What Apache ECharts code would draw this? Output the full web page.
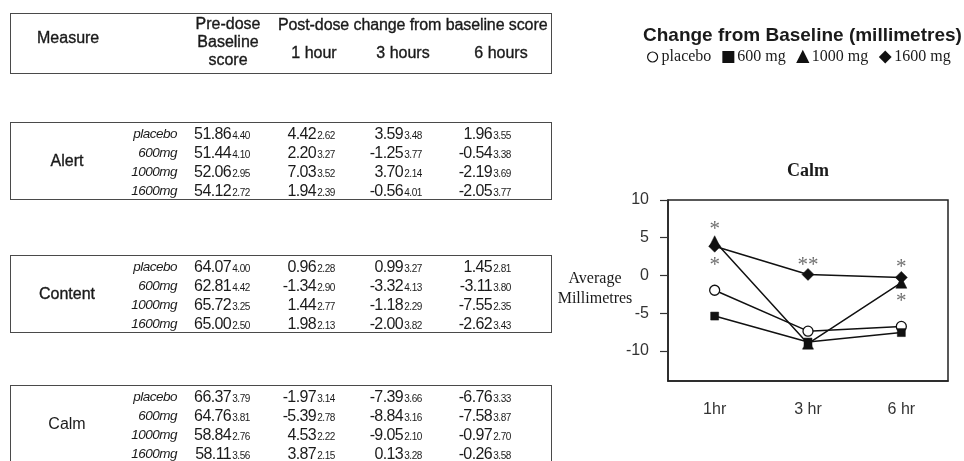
<!DOCTYPE html>
<html>
<head>
<meta charset="utf-8">
<script src="https://cdn.jsdelivr.net/npm/echarts@6/dist/echarts.min.js"></script>
<style>
  html, body { margin: 0; padding: 0; background: #fff; }
  #wrap { position: relative; width: 964px; height: 461px; overflow: hidden; background: #fff; }
  #chart { position: absolute; left: 0; top: 0; width: 964px; height: 461px; }
  #table { position: absolute; left: 0; top: 0; width: 964px; height: 461px; font-family: "Liberation Sans", Arial, sans-serif; color: #1a1a1a; }
  .box { position: absolute; border: 1.5px solid #4a4a4a; box-sizing: border-box; }
  .t { position: absolute; white-space: nowrap; line-height: 19px; }
  .hd { -webkit-text-stroke: 0.35px #1a1a1a; }
  .sd { font-size: 10px; letter-spacing: -0.4px; margin-left: 1px; }
</style>
</head>
<body>
<div id="wrap">
  <div id="chart"></div>
  <div id="table"></div>
</div>
<script>
// ---------------- data ----------------
const measures = ['Alert', 'Content', 'Calm'];
const doseLabels = ['placebo', '600mg', '1000mg', '1600mg'];
const headerTimes = ['1 hour', '3 hours', '6 hours'];

const alertBaseline = [51.86, 51.44, 52.06, 54.12];
const alertBaselineSD = [4.40, 4.10, 2.95, 2.72];
const alert1h = [4.42, 2.20, 7.03, 1.94];
const alert1hSD = [2.62, 3.27, 3.52, 2.39];
const alert3h = [3.59, -1.25, 3.70, -0.56];
const alert3hSD = [3.48, 3.77, 2.14, 4.01];
const alert6h = [1.96, -0.54, -2.19, -2.05];
const alert6hSD = [3.55, 3.38, 3.69, 3.77];

const contentBaseline = [64.07, 62.81, 65.72, 65.00];
const contentBaselineSD = [4.00, 4.42, 3.25, 2.50];
const content1h = [0.96, -1.34, 1.44, 1.98];
const content1hSD = [2.28, 2.90, 2.77, 2.13];
const content3h = [0.99, -3.32, -1.18, -2.00];
const content3hSD = [3.27, 4.13, 2.29, 3.82];
const content6h = [1.45, -3.11, -7.55, -2.62];
const content6hSD = [2.81, 3.80, 2.35, 3.43];

const calmBaseline = [66.37, 64.76, 58.84, 58.11];
const calmBaselineSD = [3.79, 3.81, 2.76, 3.56];
const calm1h = [-1.97, -5.39, 4.53, 3.87];
const calm1hSD = [3.14, 2.78, 2.22, 2.15];
const calm3h = [-7.39, -8.84, -9.05, 0.13];
const calm3hSD = [3.66, 3.16, 2.10, 3.28];
const calm6h = [-6.76, -7.58, -0.97, -0.26];
const calm6hSD = [3.33, 3.87, 2.70, 3.58];

// chart
const chartCategories = ['1hr', '3 hr', '6 hr'];
const seriesNames = ['placebo', '600 mg', '1000 mg', '1600 mg'];
const yTickValues = [-10, -5, 0, 5, 10];
// significance markers (asterisks)
const sigCategory = ['1hr', '1hr', '3 hr', '6 hr', '6 hr'];
const sigValue = [6.7, 2.0, 2.0, 1.7, -2.8];
const sigText = ['*', '*', '**', '*', '*'];

// ---------------- table (HTML) ----------------
const tableData = {
  Alert: [[alertBaseline, alertBaselineSD], [alert1h, alert1hSD], [alert3h, alert3hSD], [alert6h, alert6hSD]],
  Content: [[contentBaseline, contentBaselineSD], [content1h, content1hSD], [content3h, content3hSD], [content6h, content6hSD]],
  Calm: [[calmBaseline, calmBaselineSD], [calm1h, calm1hSD], [calm3h, calm3hSD], [calm6h, calm6hSD]]
};

const tbl = document.getElementById('table');
function add(html, css, cls) {
  const d = document.createElement('div');
  d.className = cls || 't';
  d.innerHTML = html;
  Object.assign(d.style, css);
  tbl.appendChild(d);
  return d;
}
const BOX_L = 10, BOX_W = 542;
// header
add('', { left: BOX_L + 'px', top: '13px', width: BOX_W + 'px', height: '61px' }, 'box');
add('Measure', { left: '37px', top: '28px', fontSize: '16px' }, 't hd');
['Pre-dose', 'Baseline', 'score'].forEach((s, i) => {
  add(s, { left: '178px', width: '100px', textAlign: 'center', top: (14 + i * 18) + 'px', fontSize: '16px' }, 't hd');
});
add('Post-dose change from baseline score', { left: '278px', top: '15px', fontSize: '16px', letterSpacing: '-0.1px' }, 't hd');
const hdrCenters = [314, 403, 501];
headerTimes.forEach((s, i) => {
  add(s, { left: (hdrCenters[i] - 60) + 'px', width: '120px', textAlign: 'center', top: '43px', fontSize: '16px' }, 't hd');
});

const boxTops = [122, 255, 385];
const colRights = [250, 335, 422, 511];
measures.forEach((m, mi) => {
  const top = boxTops[mi];
  add('', { left: BOX_L + 'px', top: top + 'px', width: BOX_W + 'px', height: '78px' }, 'box');
  add(m, { left: '17px', width: '100px', textAlign: 'center', top: (top + 29) + 'px', fontSize: '16px' }, mi < 2 ? 't hd' : 't');
  doseLabels.forEach((d, ri) => {
    const y = top + 2 + ri * 19;
    add(d, { right: (964 - 177) + 'px', top: y + 'px', fontSize: '13.5px', fontStyle: 'italic', letterSpacing: '-0.5px' });
    tableData[m].forEach((col, ci) => {
      const v = col[0][ri].toFixed(2);
      const sd = col[1][ri].toFixed(2);
      add(v + '<span class="sd">' + sd + '</span>', { right: (964 - colRights[ci]) + 'px', top: y + 'px', fontSize: '16px', letterSpacing: '-0.6px', textAlign: 'right' });
    });
  });
});

// ---------------- chart ----------------
const seriesData = [0, 1, 2, 3].map(k => [calm1h[k], calm3h[k], calm6h[k]]);
const symbols = ['circle', 'rect', 'triangle', 'diamond'];
const symbolSizes = [10, 8, 11, 12];

const chart = echarts.init(document.getElementById('chart'));
const series = seriesNames.map((name, k) => ({
  name: name,
  type: 'line',
  data: seriesData[k],
  symbol: symbols[k],
  symbolSize: symbolSizes[k],
  showAllSymbol: true,
  lineStyle: { color: '#111', width: 1.5 },
  itemStyle: k === 0 ? { color: '#fff', borderColor: '#111', borderWidth: 1.3 } : { color: '#111', borderColor: '#111', borderWidth: 0.5 },
  z: 3 + k,
  animation: false
}));
series.push({
  type: 'scatter',
  name: 'sig',
  symbolSize: 0,
  data: sigCategory.map((c, i) => [c, sigValue[i], sigText[i]]),
  label: {
    show: true,
    position: 'inside',
    formatter: p => p.data[2],
    fontFamily: '"Liberation Serif", "Times New Roman", serif',
    fontSize: 21,
    color: '#4a4a4a',
    offset: [0, 5]
  },
  silent: true,
  z: 10,
  animation: false
});

chart.setOption({
  animation: false,
  title: {
    text: 'Change from Baseline (millimetres)',
    left: 643,
    top: 26,
    padding: 0,
    textStyle: { fontFamily: '"Liberation Sans", Arial, sans-serif', fontWeight: 'bold', fontSize: 19, color: '#1a1a1a' }
  },
  legend: {
    left: 647,
    top: 49,
    padding: 0,
    itemWidth: 10,
    itemHeight: 10,
    itemGap: 11,
    textStyle: { fontFamily: '"Liberation Serif", "Times New Roman", serif', fontSize: 16, color: '#1a1a1a', padding: [0, 0, 0, -1] },
    data: [
      { name: 'placebo', icon: 'circle', itemStyle: { color: '#fff', borderColor: '#111', borderWidth: 1.2 } },
      { name: '600 mg', icon: 'rect', itemStyle: { color: '#111' } },
      { name: '1000 mg', icon: 'triangle', itemStyle: { color: '#111' } },
      { name: '1600 mg', icon: 'diamond', itemStyle: { color: '#111' } }
    ]
  },
  graphic: [
    { type: 'text', x: 808, y: 171, style: { text: 'Calm', align: 'center', verticalAlign: 'middle', font: 'bold 18px "Liberation Serif", serif', fill: '#1a1a1a' } },
    { type: 'text', x: 595, y: 289, style: { text: 'Average\nMillimetres', align: 'center', verticalAlign: 'middle', font: '16px "Liberation Serif", serif', lineHeight: 20, fill: '#1a1a1a' } }
  ],
  grid: { left: 668, right: 16, top: 200, bottom: 80, show: true, borderColor: '#222', borderWidth: 1.5, backgroundColor: 'transparent' },
  xAxis: {
    type: 'category',
    data: chartCategories,
    boundaryGap: true,
    axisLine: { onZero: false, lineStyle: { color: '#222', width: 1.5 } },
    axisTick: { alignWithLabel: true, length: 10, lineStyle: { color: '#333', width: 1.2 } },
    axisLabel: { margin: 21, fontFamily: '"Liberation Sans", Arial, sans-serif', fontSize: 16, color: '#333' },
    splitLine: { show: false }
  },
  yAxis: {
    type: 'value',
    min: -14,
    max: 10,
    axisLine: { show: true, lineStyle: { color: '#222', width: 1.5 } },
    axisTick: { show: true, length: 8, customValues: yTickValues, lineStyle: { color: '#333', width: 1.2 } },
    axisLabel: { margin: 19, customValues: yTickValues, fontFamily: '"Liberation Sans", Arial, sans-serif', fontSize: 16, color: '#333' },
    splitLine: { show: false }
  },
  series: series
});
</script>
</body>
</html>
